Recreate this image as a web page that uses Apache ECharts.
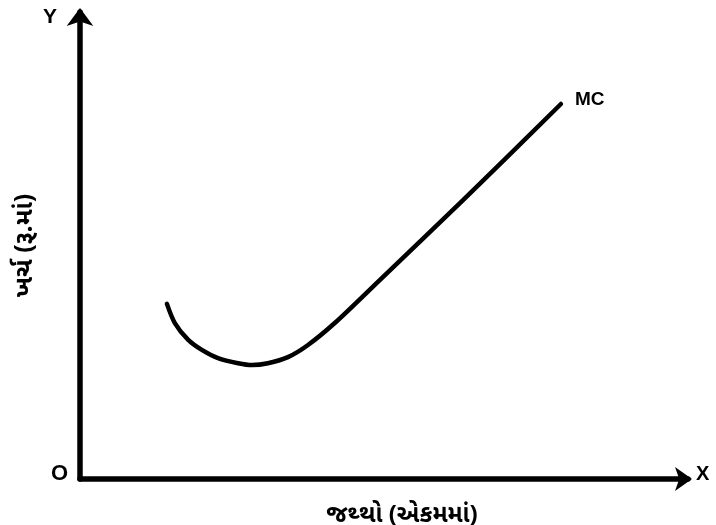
<!DOCTYPE html>
<html>
<head>
<meta charset="utf-8">
<script src="https://cdn.jsdelivr.net/npm/echarts@6/dist/echarts.min.js"></script>
<style>
  html, body { margin: 0; padding: 0; background: #fff; }
  #chart { width: 716px; height: 525px; }
</style>
</head>
<body>
<div id="chart"></div>
<script>
// Marginal cost curve: quantity (units) vs cost
const quantity = [14.3, 15.6, 17.8, 20.1, 22.7, 26.0, 28.3, 30.9, 34.2, 37.5, 41.9, 49.3, 63.0, 79.1];
const mcCost   = [37.5, 33.4, 29.8, 27.6, 25.9, 24.8, 24.4, 24.8, 26.1, 28.7, 33.4, 42.6, 59.7, 80.3];
const seriesName = 'MC';
const xAxisTitle = 'જથ્થો (એકમમાં)';
const yAxisTitle = 'ખર્ચ (રૂ.માં)';

const points = quantity.map((q, i) => [q, mcCost[i]]);
const ink = '#000';
const labelFont = '"Noto Sans Gujarati", "Noto Sans", sans-serif';
const letterFont = 'Arial, "Liberation Sans", sans-serif';

const chart = echarts.init(document.getElementById('chart'), null, { renderer: 'canvas' });
chart.setOption({
  backgroundColor: '#fff',
  animation: false,
  grid: { left: 80, right: 28, top: 12, bottom: 46, containLabel: false, outerBoundsMode: 'none' },
  xAxis: {
    type: 'value', min: 0, max: 100,
    splitLine: { show: false }, axisTick: { show: false }, axisLabel: { show: false },
    axisLine: { lineStyle: { color: ink, width: 5.5 }, symbol: ['none', 'arrow'], symbolSize: [18, 17], symbolOffset: [0, 4] },
    name: xAxisTitle, nameLocation: 'middle', nameGap: 27,
    nameTextStyle: { color: ink, fontSize: 24, fontWeight: 'bold', fontFamily: labelFont, padding: [0, 0, 0, 36] }
  },
  yAxis: {
    type: 'value', min: 0, max: 100,
    splitLine: { show: false }, axisTick: { show: false }, axisLabel: { show: false },
    axisLine: { lineStyle: { color: ink, width: 5.5 }, symbol: ['none', 'arrow'], symbolSize: [20, 18], symbolOffset: [0, 4] },
    name: yAxisTitle, nameLocation: 'middle', nameGap: 40, nameRotate: 90,
    nameTextStyle: { color: ink, fontSize: 25, fontWeight: 'bold', fontFamily: labelFont, padding: [0, 0, 0, 0] }
  },
  series: [{
    name: seriesName,
    type: 'line',
    data: points,
    smooth: 0.3,
    showSymbol: false,
    lineStyle: { color: ink, width: 4.5, cap: 'round' },
    endLabel: {
      show: true, formatter: seriesName, color: ink,
      fontSize: 19, fontWeight: 'bold', fontFamily: letterFont,
      offset: [6, -4]
    }
  }],
  graphic: [
    { type: 'text', left: 43, top: 7, style: { text: 'Y', fill: ink, font: 'bold 21px ' + letterFont } },
    { type: 'text', left: 696, top: 464, style: { text: 'X', fill: ink, font: 'bold 20px ' + letterFont } },
    { type: 'text', left: 51, top: 463, style: { text: 'O', fill: ink, font: 'bold 22px ' + letterFont } }
  ]
});
</script>
</body>
</html>
